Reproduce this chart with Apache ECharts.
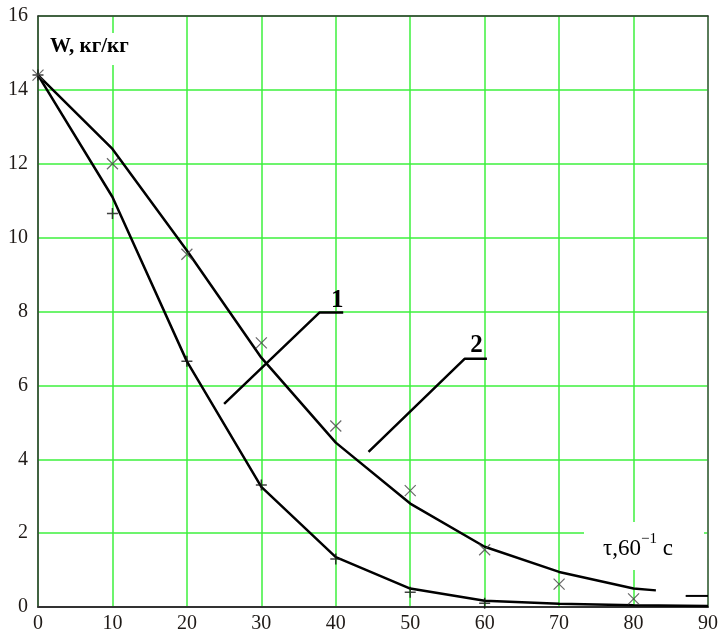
<!DOCTYPE html>
<html>
<head>
<meta charset="utf-8">
<script src="https://cdn.jsdelivr.net/npm/echarts@6/dist/echarts.min.js"></script>
<style>html,body{margin:0;padding:0;background:#fff;}#c{width:725px;height:636px;}</style>
</head>
<body>
<div id="c"></div>
<script>
var xTicks = [0, 10, 20, 30, 40, 50, 60, 70, 80, 90];
var yTicks = [0, 2, 4, 6, 8, 10, 12, 14, 16];

var curve1T = [0, 10, 20, 30, 40, 50, 60, 70, 80, 90];
var curve1W = [14.4, 11.1, 6.65, 3.25, 1.35, 0.5, 0.17, 0.09, 0.05, 0.03];

var curve2T = [0, 10, 20, 30, 40, 50, 60, 70, 80, 83];
var curve2W = [14.4, 12.4, 9.65, 6.75, 4.45, 2.8, 1.63, 0.95, 0.5, 0.45];

var tailT = [87, 90];
var tailW = [0.3, 0.3];

var plusT = [0, 10, 20, 30, 40, 50, 60];
var plusW = [14.4, 10.65, 6.65, 3.3, 1.3, 0.4, 0.1];

var crossT = [0, 10, 20, 30, 40, 50, 60, 70, 80];
var crossW = [14.4, 12.0, 9.55, 7.15, 4.9, 3.15, 1.55, 0.62, 0.22];

var leader1T = [25.0, 37.8, 41.0];
var leader1W = [5.5, 7.97, 7.97];
var leader2T = [44.4, 57.3, 60.3];
var leader2W = [4.2, 6.72, 6.72];

function zip(a, b) { return a.map(function (v, i) { return [v, b[i]]; }); }

var serif = '"Liberation Serif", "DejaVu Serif", serif';
var chart = echarts.init(document.getElementById('c'));
chart.setOption({
  animation: false,
  backgroundColor: '#fff',
  grid: { left: 38, right: 17, top: 16, bottom: 29 },
  xAxis: [{
    type: 'value', min: 0, max: 90, interval: 10,
    axisLine: { show: true, lineStyle: { color: '#333', width: 2 } },
    axisTick: { show: false },
    splitLine: { show: true, lineStyle: { color: '#3cf03c', width: 1.5 } },
    axisLabel: { color: '#1f1a17', fontFamily: serif, fontSize: 20, margin: 7,
      formatter: function (v) { return xTicks.indexOf(v) >= 0 ? String(v) : ''; } }
  }, {
    type: 'value', min: 0, max: 90, interval: 10, position: 'top',
    axisLine: { show: true, onZero: false, lineStyle: { color: '#333', width: 1.5 } },
    axisTick: { show: false }, splitLine: { show: false }, axisLabel: { show: false }
  }],
  yAxis: [{
    type: 'value', min: 0, max: 16, interval: 2,
    axisLine: { show: true, lineStyle: { color: '#333', width: 1.5 } },
    axisTick: { show: false },
    splitLine: { show: true, lineStyle: { color: '#3cf03c', width: 1.5 } },
    axisLabel: { color: '#1f1a17', fontFamily: serif, fontSize: 20, margin: 10,
      formatter: function (v) { return yTicks.indexOf(v) >= 0 ? String(v) : ''; } }
  }, {
    type: 'value', min: 0, max: 16, interval: 2, position: 'right',
    axisLine: { show: true, onZero: false, lineStyle: { color: '#555', width: 1.5 } },
    axisTick: { show: false }, splitLine: { show: false }, axisLabel: { show: false }
  }],
  graphic: [
    { type: 'rect', z: 100, shape: { x: 46, y: 33, width: 100, height: 32 }, style: { fill: '#fff' } },
    { type: 'text', z: 101, left: 50, top: 36, style: { text: 'W, кг/кг', font: 'bold 21px ' + serif, fill: '#000' } },
    { type: 'rect', z: 100, shape: { x: 584, y: 522, width: 120, height: 48 }, style: { fill: '#fff' } },
    { type: 'text', z: 101, left: 603, top: 532, style: {
      text: '{a|τ,60}{s|−1}{a| c}',
      rich: {
        a: { font: '23px ' + serif, fill: '#000', verticalAlign: 'bottom', lineHeight: 28 },
        s: { font: '15px ' + serif, fill: '#000', verticalAlign: 'top', lineHeight: 28 }
      }
    } }
  ],
  series: [
    { type: 'line', data: zip(curve1T, curve1W), symbol: 'none', lineStyle: { color: '#000', width: 2.5 }, z: 5 },
    { type: 'line', data: zip(curve2T, curve2W), symbol: 'none', lineStyle: { color: '#000', width: 2.5 }, z: 5 },
    { type: 'line', data: zip(tailT, tailW), symbol: 'none', lineStyle: { color: '#000', width: 2 }, z: 5 },
    { type: 'scatter', data: zip(plusT, plusW), symbol: 'path://M5,0L5,10M0,5L10,5', symbolSize: 11,
      itemStyle: { color: 'transparent', borderColor: '#111', borderWidth: 1.5 }, z: 6 },
    { type: 'scatter', data: zip(crossT, crossW), symbol: 'path://M0,0L10,10M10,0L0,10', symbolSize: 11,
      itemStyle: { color: 'transparent', borderColor: '#444', borderWidth: 1.2 }, z: 6 },
    { type: 'line', data: zip(leader1T, leader1W), symbol: 'none', lineStyle: { color: '#000', width: 2.5 }, z: 5,
      markPoint: { symbol: 'circle', symbolSize: 0, data: [{ coord: [40.2, 8.3], label: { show: true, formatter: '1', fontFamily: serif, fontWeight: 'bold', fontSize: 25, color: '#000' } }] } },
    { type: 'line', data: zip(leader2T, leader2W), symbol: 'none', lineStyle: { color: '#000', width: 2.5 }, z: 5,
      markPoint: { symbol: 'circle', symbolSize: 0, data: [{ coord: [58.9, 7.08], label: { show: true, formatter: '2', fontFamily: serif, fontWeight: 'bold', fontSize: 25, color: '#000' } }] } }
  ]
});
</script>
</body>
</html>
